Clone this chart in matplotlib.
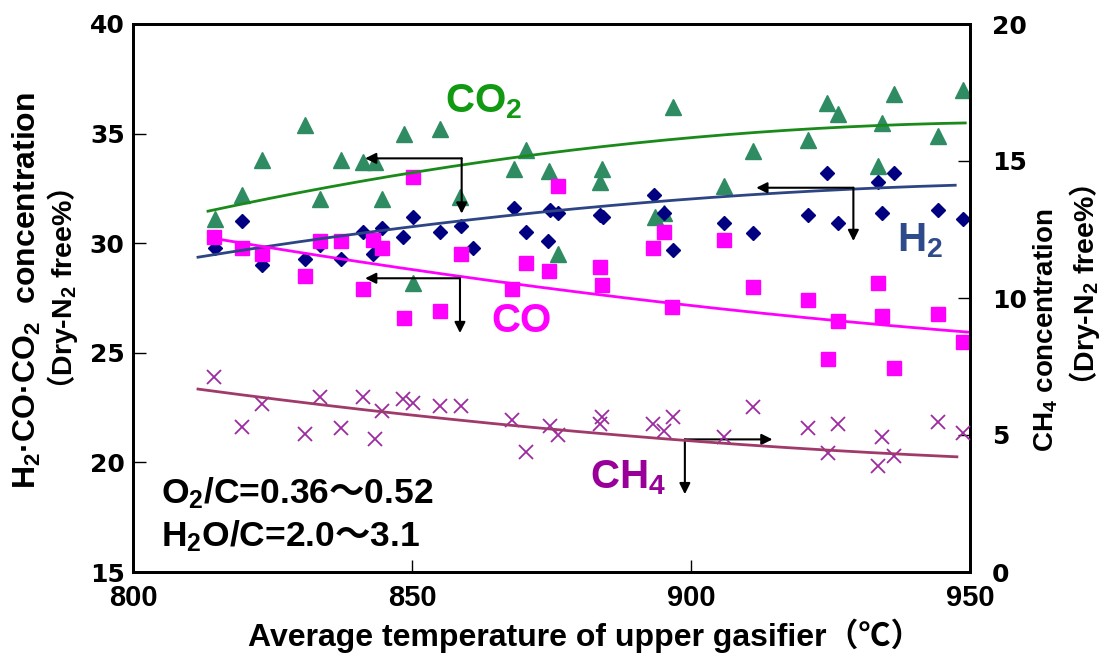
import numpy as np
import matplotlib
matplotlib.use("Agg")
import matplotlib.pyplot as plt

plt.rcParams["font.family"] = ["Liberation Sans", "Noto Sans CJK JP", "DejaVu Sans"]
plt.rcParams["font.weight"] = "bold"
plt.rcParams["mathtext.fontset"] = "custom"
plt.rcParams["mathtext.rm"] = "Liberation Sans:bold"
plt.rcParams["mathtext.bf"] = "Liberation Sans:bold"
plt.rcParams["mathtext.it"] = "Liberation Sans:bold"
plt.rcParams["mathtext.sf"] = "Noto Sans CJK JP:bold"   # full-width signs inside mathtext
plt.rcParams["mathtext.default"] = "bf"

# ---- measured gas composition vs. upper gasifier temperature ----
co2_temp = [814.7, 819.5, 823.1, 830.9, 833.5, 837.2, 841.3, 843.4, 844.7, 848.5,
            850.2, 855.0, 858.6, 868.2, 870.5, 874.6, 876.2, 883.7, 884.0, 893.5,
            895.2, 896.7, 906.0, 911.2, 920.9, 924.4, 926.4, 933.5, 934.2, 936.4,
            944.2, 948.7]
co2_conc = [31.1, 32.2, 33.8, 35.4, 32.0, 33.8, 33.7, 33.7, 32.0, 35.0,
            28.2, 35.2, 32.1, 33.4, 34.25, 33.3, 29.5, 32.8, 33.4, 31.2,
            31.4, 36.2, 32.6, 34.2, 34.7, 36.4, 35.9, 33.5, 35.5, 36.8,
            34.9, 37.0]

h2_temp = [814.7, 819.5, 823.2, 830.9, 833.5, 837.2, 841.3, 843.1, 844.7, 848.3,
           850.2, 855.0, 858.8, 861.0, 868.2, 870.5, 874.4, 874.7, 876.2, 883.7,
           884.2, 893.4, 895.2, 896.7, 906.0, 911.2, 920.9, 924.4, 926.4, 933.5,
           934.2, 936.4, 944.2, 948.7]
h2_conc = [29.8, 31.0, 29.0, 29.3, 29.9, 29.3, 30.5, 29.5, 30.7, 30.3,
           31.2, 30.5, 30.8, 29.8, 31.6, 30.5, 30.1, 31.5, 31.4, 31.3,
           31.2, 32.2, 31.4, 29.7, 30.9, 30.45, 31.3, 33.2, 30.9, 32.8,
           31.4, 33.2, 31.5, 31.1]

co_temp = [814.6, 819.5, 823.2, 830.9, 833.5, 837.2, 841.3, 843.1, 844.7, 848.5,
           850.1, 855.0, 858.8, 868.0, 870.5, 874.5, 876.2, 883.7, 884.0, 893.2,
           895.2, 896.6, 906.0, 911.2, 920.9, 924.6, 926.4, 933.5, 934.2, 936.4,
           944.2, 948.7]
co_conc = [30.3, 29.8, 29.5, 28.5, 30.1, 30.1, 27.9, 30.15, 29.8, 26.6,
           33.0, 26.9, 29.5, 27.9, 29.1, 28.75, 32.6, 28.9, 28.1, 29.8,
           30.5, 27.1, 30.15, 28.0, 27.4, 24.7, 26.45, 28.2, 26.7, 24.3,
           26.75, 25.5]

ch4_temp = [814.6, 819.5, 823.2, 830.9, 833.5, 837.2, 841.3, 843.3, 844.7, 848.3,
            850.1, 855.0, 858.8, 868.0, 870.5, 874.7, 876.2, 883.7, 884.0, 893.2,
            895.2, 896.7, 906.0, 911.2, 920.9, 924.6, 926.4, 933.5, 934.2, 936.4,
            944.2, 948.7]
ch4_conc = [7.13, 5.30, 6.13, 5.02, 6.38, 5.24, 6.38, 4.85, 5.88, 6.30,
            6.16, 6.07, 6.07, 5.55, 4.39, 5.34, 5.00, 5.40, 5.67, 5.40,
            5.16, 5.65, 4.94, 6.01, 5.24, 4.33, 5.40, 3.88, 4.94, 4.25,
            5.46, 5.06]

# ---- trend curves (points along each regression curve) ----
co2_trend_t = [813.2, 835.3, 859.2, 874.7, 911.2, 949.4]
co2_trend_v = [31.3, 32.7, 33.8, 34.05, 34.8, 35.6]
h2_trend_t = [811.4, 835.3, 858.6, 874.7, 911.2, 947.6]
h2_trend_v = [29.3, 30.3, 31.1, 31.45, 32.1, 32.7]
co_trend_t = [815.6, 858.6, 873.0, 896.6, 926.4, 950.0]
co_trend_v = [30.2, 28.4, 28.0, 27.3, 26.5, 25.9]
ch4_trend_t = [811.4, 844.8, 874.7, 898.9, 947.9]
ch4_trend_v = [6.70, 5.81, 5.21, 4.84, 4.19]

x_ticks = [800, 850, 900, 950]
left_ticks = [15, 20, 25, 30, 35, 40]
right_ticks = [0, 5, 10, 15, 20]

C_CO2, C_CO2_LINE, C_CO2_TXT = "#2e8b62", "#1a8a1a", "#119911"
C_H2, C_H2_LINE, C_H2_TXT = "#000080", "#2e4585", "#2f4a8a"
C_CO = "#ff00ff"
C_CH4, C_CH4_LINE, C_CH4_TXT = "#9c2aa0", "#a03a6a", "#990099"

fig = plt.figure(figsize=(11.08, 6.66), dpi=100)
ax = fig.add_axes([133 / 1108, 1 - 572 / 666, (970 - 133) / 1108, (572 - 24) / 666])
ax2 = ax.twinx()

ax.plot(co2_temp, co2_conc, linestyle="none", marker="^", ms=11, color=C_CO2, zorder=3)
ax.plot(h2_temp, h2_conc, linestyle="none", marker="D", ms=7, color=C_H2, zorder=3)
ax.plot(co_temp, co_conc, linestyle="none", marker="s", ms=9.5, color=C_CO, zorder=4)
ax2.plot(ch4_temp, ch4_conc, linestyle="none", marker="x", ms=10, mew=1.3, color=C_CH4, zorder=3)


def trend(axis, t, v, color):
    coef = np.polyfit(t, v, 2)
    tt = np.linspace(min(t), max(t), 200)
    axis.plot(tt, np.polyval(coef, tt), color=color, lw=2, zorder=5, solid_capstyle="butt")


trend(ax, co2_trend_t, co2_trend_v, C_CO2_LINE)
trend(ax, h2_trend_t, h2_trend_v, C_H2_LINE)
trend(ax, co_trend_t, co_trend_v, C_CO)
trend(ax2, ch4_trend_t, ch4_trend_v, C_CH4_LINE)

# axis-pointer arrows: (corner, horizontal end, vertical end)
arrow_kw = dict(arrowstyle="-|>", color="black", lw=1.5, mutation_scale=16, shrinkA=0, shrinkB=0)
pointers = [
    ((858.9, 33.87), (841.6, 33.87), (858.9, 31.35)),
    ((858.6, 28.40), (841.6, 28.40), (858.6, 25.90)),
    ((929.1, 32.53), (911.7, 32.53), (929.1, 30.10)),
    ((898.9, 21.05), (914.6, 21.05), (898.9, 18.55)),
]
for corner, hend, vend in pointers:
    ax.annotate("", xy=hend, xytext=corner, arrowprops=arrow_kw, zorder=6)
    ax.annotate("", xy=vend, xytext=corner, arrowprops=arrow_kw, zorder=6)

lab_kw = dict(fontsize=29, fontweight="bold", ha="left", va="baseline", zorder=7)
ax.text(856.0, 35.95, r"CO$_2$", color=C_CO2_TXT, **lab_kw)
ax.text(937.0, 29.61, r"H$_2$", color=C_H2_TXT, **lab_kw)
ax.text(864.3, 25.96, "CO", color=C_CO, **lab_kw)
ax.text(881.9, 18.82, r"CH$_4$", color=C_CH4_TXT, **lab_kw)

cond_kw = dict(fontsize=25.5, fontweight="bold", ha="left", va="baseline", color="black")
ax.text(805.1, 18.13, r"O$_2$/C=0.36$\mathsf{～}$0.52", **cond_kw)
ax.text(805.1, 16.15, r"H$_2$O/C=2.0$\mathsf{～}$3.1", **cond_kw)

ax.set_xlim(800, 950)
ax.set_ylim(15, 40)
ax2.set_ylim(0, 20)
ax.set_xticks(x_ticks)
ax.set_yticks(left_ticks)
ax2.set_yticks(right_ticks)

for a in (ax, ax2):
    for s in a.spines.values():
        s.set_linewidth(2)
        s.set_color("black")
ax.tick_params(axis="x", direction="in", length=9, width=1, pad=9, labelsize=21)
ax.tick_params(axis="y", direction="in", length=9, width=1, pad=6)
ax2.tick_params(axis="y", direction="in", length=9, width=1, pad=16)
for lab in ax.get_yticklabels() + ax2.get_yticklabels():
    lab.set_fontfamily(["DejaVu Sans"])
    lab.set_fontsize(18)
    lab.set_fontweight("bold")
for lab in ax.get_xticklabels():
    lab.set_fontweight("bold")

fig.text(585 / 1108, 1 - 636 / 666, "Average temperature of upper gasifier（℃）",
         fontsize=23, fontweight="bold", ha="center", va="center")

fig.text(27 / 1108, 1 - 291 / 666, r"H$_2$·CO·CO$_2$  concentration",
         fontsize=23, fontweight="bold", rotation=90, ha="center", va="center")
fig.text(63 / 1108, 1 - 296 / 666, r"$\mathsf{（}$Dry-N$_2$ free%$\mathsf{）}$",
         fontsize=20.5, fontweight="bold", rotation=90, ha="center", va="center")
fig.text(1046 / 1108, 1 - 330 / 666, r"CH$_4$ concentration",
         fontsize=20, fontweight="bold", rotation=90, ha="center", va="center")
fig.text(1085 / 1108, 1 - 292 / 666, r"$\mathsf{（}$Dry-N$_2$ free%$\mathsf{）}$",
         fontsize=20.5, fontweight="bold", rotation=90, ha="center", va="center")

fig.savefig("out.png", dpi=100)
